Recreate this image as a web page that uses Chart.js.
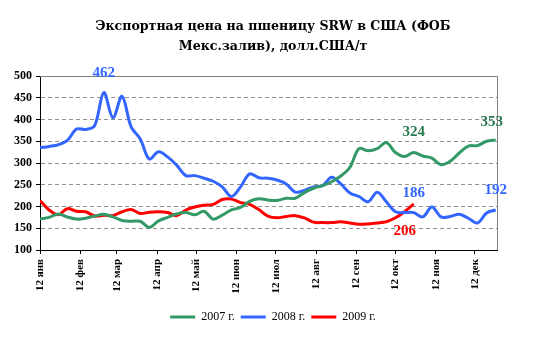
<!DOCTYPE html>
<html lang="ru">
<head>
    <meta charset="UTF-8">
    <title>Экспортная цена на пшеницу SRW</title>
    <script src="https://cdn.jsdelivr.net/npm/chart.js"></script>
    <style>
        body {
            margin: 0;
            background: #fff;
        }

        .chart-box {
            width: 546px;
            height: 337px;
        }
    </style>
</head>
<body>
    <div class="chart-box">
        <canvas id="wheatChart"></canvas>
    </div>

    <script>
        // Axis: days counted from 12 Jan, one tick per month
        const tickDays = [0, 31, 59, 90, 120, 151, 181, 212, 243, 273, 304, 334];
        const tickLabels = ['12 янв', '12 фев', '12 мар', '12 апр', '12 май', '12 июн',
            '12 июл', '12 авг', '12 сен', '12 окт', '12 ноя', '12 дек'];

        const seriesNames = ['2007 г.', '2008 г.', '2009 г.'];

        // Weekly prices, USD/t (first value = week of 12 Jan)
        const price2007 = [171, 175, 183, 176, 171, 173, 178, 182, 176, 168, 166, 166, 152,
            167, 175, 183, 186, 181, 189, 171, 180, 192, 198, 212, 218, 215, 214, 219, 219,
            232, 242, 248, 257, 270, 290, 333, 328, 333, 347, 324, 315, 324, 316, 311, 296,
            304, 323, 339, 340, 350, 353];
        const price2008 = [335, 338, 342, 352, 378, 377, 386, 462, 404, 453, 383, 355, 309,
            326, 314, 295, 271, 271, 265, 258, 245, 223, 245, 275, 266, 265, 261, 252, 233,
            237, 245, 248, 267, 252, 231, 223, 211, 233, 211, 188, 186, 186, 176, 199, 176,
            177, 182, 173, 162, 185, 192];
        const price2009 = [214, 192, 181, 195, 189, 188, 178, 180, 179, 188, 193, 184, 187,
            188, 186, 179, 192, 199, 203, 205, 216, 217, 209, 205, 193, 178, 174, 177, 179,
            174, 164, 163, 163, 165, 162, 159, 160, 162, 165, 174, 188, 206];

        // Which points carry a value label: [dataset, week]
        const labelledPoints = [[1, 7], [0, 50], [0, 41], [1, 41], [2, 41], [1, 50]];

        const lineColors = ['#339966', '#3366FF', '#FF0000'];
        const labelColors = ['#2A7A50', '#3366FF', '#FF0000'];
        // label offsets (dx, dy) in the same order as labelledPoints
        const labelOffsets = [[0, -19], [-4, -18], [0, -20], [0, -19], [-9, 27], [0, -20]];

        const toPoints = (arr) => arr.map((v, i) => ({ x: i * 7, y: v }));

        // gray frame on the top and right of the plot
        const frame = {
            id: 'frame',
            beforeDatasetsDraw(chart) {
                const { ctx, chartArea: a } = chart;
                ctx.save();
                ctx.strokeStyle = '#808080';
                ctx.lineWidth = 1;
                ctx.beginPath();
                ctx.moveTo(a.left, a.top + 0.5);
                ctx.lineTo(a.right + 0.5, a.top + 0.5);
                ctx.lineTo(a.right + 0.5, a.bottom);
                ctx.stroke();
                ctx.restore();
            }
        };

        // value labels next to chosen points
        const valueLabels = {
            id: 'valueLabels',
            afterDatasetsDraw(chart) {
                const ctx = chart.ctx;
                ctx.save();
                ctx.font = 'bold 15px "Liberation Serif", serif';
                ctx.textAlign = 'center';
                ctx.textBaseline = 'middle';
                labelledPoints.forEach(([ds, i], k) => {
                    const pt = chart.getDatasetMeta(ds).data[i];
                    const value = chart.data.datasets[ds].data[i].y;
                    ctx.fillStyle = labelColors[ds];
                    ctx.fillText(String(value), pt.x + labelOffsets[k][0], pt.y + labelOffsets[k][1]);
                });
                ctx.restore();
            }
        };

        const ctx = document.getElementById('wheatChart').getContext('2d');
        const wheatChart = new Chart(ctx, {
            type: 'line',
            data: {
                datasets: [price2007, price2008, price2009].map((arr, k) => ({
                    label: seriesNames[k],
                    data: toPoints(arr),
                    borderColor: lineColors[k],
                    backgroundColor: lineColors[k],
                    borderWidth: 3,
                    pointRadius: 0,
                    tension: 0.35,
                    fill: false
                }))
            },
            options: {
                responsive: true,
                maintainAspectRatio: false,
                animation: false,
                layout: { padding: { left: 0, right: 0, top: 0, bottom: 4 } },
                plugins: {
                    title: {
                        display: true,
                        text: ['Экспортная цена на пшеницу SRW в США (ФОБ', 'Мекс.залив), долл.США/т'],
                        color: '#000',
                        font: { family: '"DejaVu Serif", serif', size: 12.6, weight: 'bold', lineHeight: '20px' },
                        padding: { top: 17, bottom: 19 }
                    },
                    legend: {
                        position: 'bottom',
                        labels: {
                            color: '#000',
                            font: { family: '"Liberation Serif", serif', size: 12 },
                            boxWidth: 25,
                            boxHeight: 3,
                            padding: 6,
                            generateLabels(chart) {
                                const items = Chart.defaults.plugins.legend.labels.generateLabels(chart);
                                items.forEach(it => { it.lineWidth = 0; });
                                return items;
                            }
                        }
                    },
                    tooltip: { enabled: false }
                },
                scales: {
                    x: {
                        type: 'linear',
                        min: 0,
                        max: 351,
                        afterBuildTicks: (s) => { s.ticks = tickDays.map(v => ({ value: v })); },
                        afterFit: (s) => { s.height = 55; },
                        ticks: {
                            autoSkip: false,
                            minRotation: 90,
                            maxRotation: 90,
                            padding: 5,
                            color: '#000',
                            font: { family: '"Liberation Serif", serif', size: 11, weight: 'bold' },
                            callback: (v, i) => tickLabels[i]
                        },
                        grid: { drawOnChartArea: false, tickLength: 4, tickColor: '#000' },
                        border: { color: '#000', width: 1 }
                    },
                    y: {
                        min: 100,
                        max: 500,
                        afterFit: (s) => { s.width = 40; },
                        ticks: {
                            stepSize: 50,
                            padding: 4,
                            color: '#000',
                            font: { family: '"Liberation Serif", serif', size: 12, weight: 'bold' }
                        },
                        grid: {
                            color: (c) => (c.tick.value === 100 || c.tick.value === 500) ? 'rgba(0,0,0,0)' : '#909090',
                            tickColor: '#000',
                            tickLength: 4
                        },
                        border: { color: '#000', width: 1, dash: [4, 3] }
                    },
                    // empty right-hand strip so the plot ends where the original does
                    yRight: {
                        position: 'right',
                        min: 0,
                        max: 1,
                        afterFit: (s) => { s.width = 49; },
                        ticks: { display: false },
                        grid: { display: false },
                        border: { display: false }
                    }
                }
            },
            plugins: [frame, valueLabels]
        });
    </script>
</body>
</html>
